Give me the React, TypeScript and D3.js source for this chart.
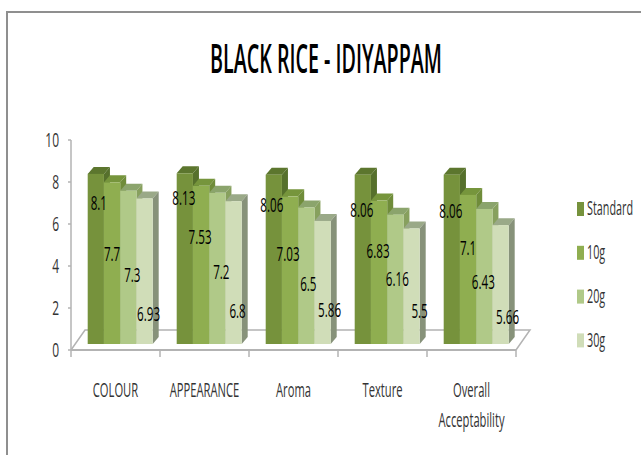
import React from "react";
import * as d3 from "d3";

const chartTitle = "BLACK RICE - IDIYAPPAM";
const categories = ["COLOUR", "APPEARANCE", "Aroma", "Texture", "Overall Acceptability"];
const seriesNames = ["Standard", "10g", "20g", "30g"];
const standard = [8.1, 8.13, 8.06, 8.06, 8.06];
const tenGrams = [7.7, 7.53, 7.03, 6.83, 7.1];
const twentyGrams = [7.3, 7.2, 6.5, 6.16, 6.43];
const thirtyGrams = [6.93, 6.8, 5.86, 5.5, 5.66];
const valueTicks = [0, 2, 4, 6, 8, 10];

const seriesValues = [standard, tenGrams, twentyGrams, thirtyGrams];

// Hand-placed data labels: offsets per series from the centre / top of each bar
const labelShiftX = [
  [3, -1, -2, -1, -1],
  [0, -1, -2, -1, 0],
  [4, 4, 2, 2, -1],
  [4, 4, 7, 8, 7],
];
const labelDropY = [
  [29, 24, 30, 35, 36],
  [71, 51, 57, 50, 53],
  [84, 79, 76, 64, 73],
  [115, 109, 89, 82, 92],
];

const frontColors = ["#76923c", "#8fae50", "#b0c988", "#d0ddb8"];
const topColors = ["#5c762e", "#76953c", "#8ba46c", "#9aa988"];
const sideColors = ["#56702c", "#6f8c3a", "#87a05e", "#87927a"];

const FONT = "'Open Sans', sans-serif";

const x = d3.scaleBand<string>().domain(categories).range([71, 516]);
const y = d3.scaleLinear().domain([0, 10]).range([350, 140]);
const series = d3.scaleBand<string>().domain(seriesNames).range([0, 65]);

const BAR_FRONT_DROP = 6; // bars stand part-way back on the floor
const BAR_INSET = 16.7;
const DEPTH_X = 6;
const DEPTH_Y = 7;
const FLOOR_X = 14;
const FLOOR_Y = 20;

function Squeezed({ tx, ty, anchor = "middle", size, fill, weight = 400, sx = 0.56, children }: any) {
  return (
    <text
      transform={`translate(${tx},${ty}) scale(${sx},1)`}
      textAnchor={anchor}
      dominantBaseline="central"
      fontFamily={FONT}
      fontSize={size}
      fontWeight={weight}
      fill={fill}
    >
      {children}
    </text>
  );
}

function poly(points: [number, number][]) {
  return points.map((p) => p.join(",")).join(" ");
}

export default function App() {
  const [x0, x1] = x.range();
  const y0 = y(0);
  const barW = series.bandwidth();
  return (
    <svg
      width={641}
      height={455}
      viewBox="0 0 641 455"
      style={{ position: "absolute", left: 0, top: 0, background: "#fff" }}
    >
      <path d="M7,455V12H641" fill="none" stroke="#8f8f8f" strokeWidth={2} />

      <Squeezed tx={326} ty={58} size={39} weight={600} fill="#000" sx={0.505}>
        {chartTitle}
      </Squeezed>

      {/* floor and axes */}
      <path
        d={`M${x0},${y0}L${x0 + FLOOR_X},${y0 - FLOOR_Y}H${x1 + FLOOR_X}L${x1},${y0}`}
        fill="#fff"
        stroke="#b3b3b3"
        strokeWidth={1.5}
      />
      <line x1={x0} x2={x0} y1={y(10)} y2={y0} stroke="#b3b3b3" strokeWidth={1.5} />
      <line x1={x0} x2={x1} y1={y0} y2={y0} stroke="#b3b3b3" strokeWidth={2} />
      {valueTicks.map((t) => (
        <g key={t}>
          <line x1={x0 - 3} x2={x0} y1={y(t)} y2={y(t)} stroke="#b3b3b3" strokeWidth={1.5} />
          <Squeezed tx={59} ty={y(t) - 1} anchor="end" size={20} sx={0.6} fill="#333">
            {t}
          </Squeezed>
        </g>
      ))}
      {d3.range(categories.length + 1).map((i) => {
        const tx = x0 + i * x.step();
        return <line key={i} x1={tx} x2={tx} y1={y0} y2={y0 + 7} stroke="#b3b3b3" strokeWidth={1.5} />;
      })}

      {/* bars, drawn left to right so each front covers its neighbour's side */}
      {categories.map((cat, i) =>
        seriesNames.map((name, j) => {
          const left = x(cat)! + BAR_INSET + series(name)!;
          const right = left + barW;
          const top = y(seriesValues[j][i]) - BAR_FRONT_DROP;
          const base = y0 - BAR_FRONT_DROP;
          return (
            <g key={name}>
              <polygon
                points={poly([
                  [left, top],
                  [left + DEPTH_X, top - DEPTH_Y],
                  [right + DEPTH_X, top - DEPTH_Y],
                  [right, top],
                ])}
                fill={topColors[j]}
              />
              <polygon
                points={poly([
                  [right, top],
                  [right + DEPTH_X, top - DEPTH_Y],
                  [right + DEPTH_X, base - DEPTH_Y],
                  [right, base],
                ])}
                fill={sideColors[j]}
              />
              <rect x={left} y={top} width={barW} height={base - top} fill={frontColors[j]} />
            </g>
          );
        })
      )}

      {/* data labels */}
      {categories.map((cat, i) =>
        seriesNames.map((name, j) => {
          const v = seriesValues[j][i];
          const cx = x(cat)! + BAR_INSET + series(name)! + barW / 2;
          return (
            <Squeezed
              key={name}
              tx={cx + labelShiftX[j][i]}
              ty={y(v) - BAR_FRONT_DROP + labelDropY[j][i]}
              size={20}
              weight={500}
              sx={0.58}
              fill="#000"
            >
              {v}
            </Squeezed>
          );
        })
      )}

      {/* category labels */}
      {categories.map((cat) => {
        const cx = x(cat)! + x.bandwidth() / 2;
        if (cat === "Overall Acceptability") {
          const [a, b] = cat.split(" ");
          return (
            <g key={cat}>
              <Squeezed tx={cx} ty={390} size={20} fill="#333">{a}</Squeezed>
              <Squeezed tx={cx} ty={420} size={20} fill="#333">{b}</Squeezed>
            </g>
          );
        }
        return <Squeezed key={cat} tx={cx} ty={390} size={20} fill="#333">{cat}</Squeezed>;
      })}

      {/* legend */}
      {seriesNames.map((name, j) => (
        <g key={name}>
          <rect x={577} y={202 + j * 43.8} width={7} height={14} fill={frontColors[j]} />
          <Squeezed tx={587} ty={208 + j * 43.8} anchor="start" size={20} sx={0.54} fill="#333">
            {name}
          </Squeezed>
        </g>
      ))}
    </svg>
  );
}
